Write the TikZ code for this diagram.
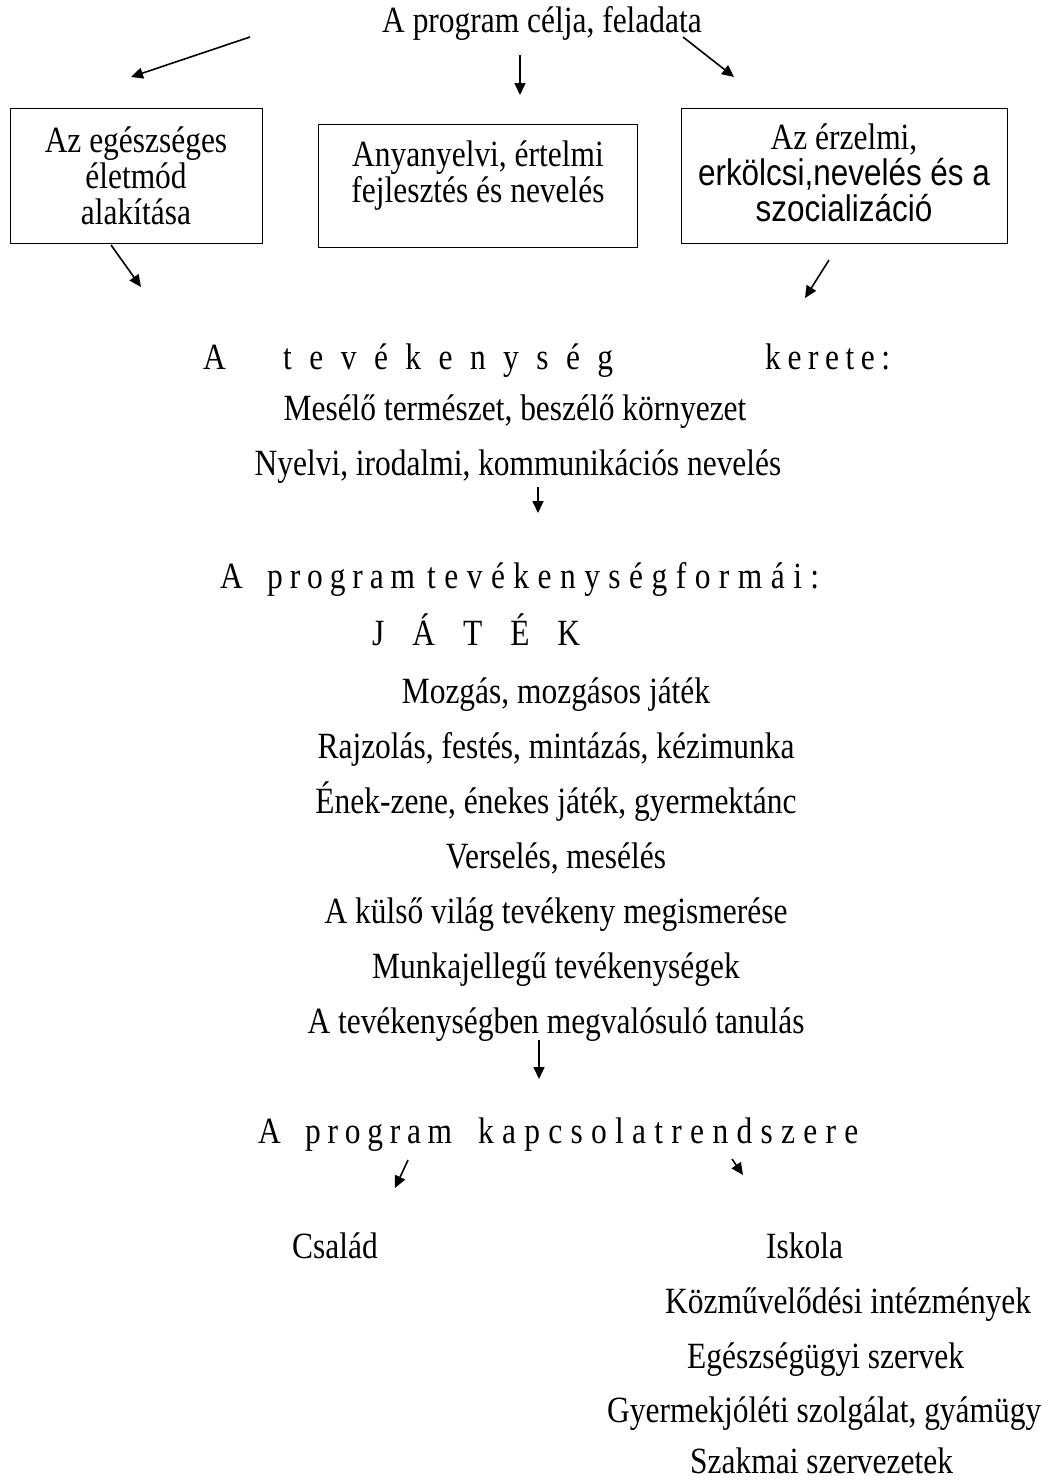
\documentclass[tikz,border=0pt]{standalone}
\usepackage{fontspec}
\setmainfont{Liberation Serif}[FakeStretch=0.85]
\newfontfamily\arialf{Liberation Sans}[FakeStretch=0.85]
\usetikzlibrary{arrows.meta}
% spread the letters of a word over a given width
\def\splloop#1{\ifx#1\relax\else#1\hfill\expandafter\splloop\fi}
\newcommand\spreadw[2]{\hbox to #1{\splloop#2\relax\unskip}}
\begin{document}
\begin{tikzpicture}[x=1pt,y=-1pt,
  txt/.style={font=\fontsize{37}{36}\selectfont, inner sep=0pt, anchor=base},
  txtw/.style={txt, anchor=base west},
  boxframe/.style={draw, line width=1.4pt, anchor=north west, inner sep=0pt},
  boxtext/.style={font=\fontsize{37}{36}\selectfont, inner sep=0pt, align=center},
  arr/.style={line width=1.6pt, -{Triangle[length=12pt,width=11pt]}}]
\useasboundingbox (0,0) rectangle (1053,1481);
% title
\node[txt] (title) at (542,32) {A program célja, feladata};
\coordinate (a1s) at (250,37); \coordinate (a1e) at (131,77);
\coordinate (a2s) at (520,55); \coordinate (a2e) at (520,95);
\coordinate (a3s) at (683,37); \coordinate (a3e) at (734,77);
\draw[arr] (a1s) -- (a1e);
\draw[arr] (a2s) -- (a2e);
\draw[arr] (a3s) -- (a3e);
% boxes
\node[boxframe, minimum width=252pt, minimum height=135pt] (b1) at (10,108) {};
\node[boxtext] (b1t) at (136,176) {Az egészséges\\életmód\\alakítása};
\node[boxframe, minimum width=319pt, minimum height=123pt] (b2) at (318,124) {};
\node[boxtext] (b2t) at (478,176) {Anyanyelvi, értelmi\\fejlesztés és nevelés};
\node[boxframe, minimum width=326pt, minimum height=135pt] (b3) at (681,108) {};
\node[boxtext] (b3t) at (844,173) {Az érzelmi,\\{\arialf erkölcsi,nevelés és a}\\{\arialf szocializáció}};
\coordinate (a4s) at (111,245); \coordinate (a4e) at (141,287);
\coordinate (a5s) at (829,260); \coordinate (a5e) at (805,298);
\draw[arr] (a4s) -- (a4e);
\draw[arr] (a5s) -- (a5e);
% frame of activity
\node[txtw] (kA) at (203,369) {A};
\node[txtw] (kT) at (283,369) {\spreadw{330pt}{tevékenység}};
\node[txtw] (kK) at (765,369) {\spreadw{125pt}{kerete:}};
\node[txt] (mes) at (515,420) {Mesélő természet, beszélő környezet};
\node[txt] (nyel) at (518,475) {Nyelvi, irodalmi, kommunikációs nevelés};
\coordinate (a6s) at (538,487); \coordinate (a6e) at (538,513);
\draw[arr] (a6s) -- (a6e);
% activity forms
\node[txtw] (fA) at (220,588) {A};
\node[txtw] (fP) at (267,588) {\spreadw{148pt}{program}};
\node[txtw] (fT) at (427,588) {\spreadw{392pt}{tevékenységformái:}};
\node[txtw] (jat) at (372,645) {\spreadw{208pt}{JÁTÉK}};
\node[txt] (l1) at (556,703) {Mozgás, mozgásos játék};
\node[txt] (l2) at (556,758) {Rajzolás, festés, mintázás, kézimunka};
\node[txt] (l3) at (556,813) {Ének-zene, énekes játék, gyermektánc};
\node[txt] (l4) at (556,868) {Verselés, mesélés};
\node[txt] (l5) at (556,923) {A külső világ tevékeny megismerése};
\node[txt] (l6) at (556,978) {Munkajellegű tevékenységek};
\node[txt] (l7) at (556,1033) {A tevékenységben megvalósuló tanulás};
\coordinate (a7s) at (539,1040); \coordinate (a7e) at (539,1079);
\draw[arr] (a7s) -- (a7e);
% relations
\node[txtw] (rA) at (258,1143) {A};
\node[txtw] (rP) at (305,1143) {\spreadw{147pt}{program}};
\node[txtw] (rK) at (478,1143) {\spreadw{380pt}{kapcsolatrendszere}};
\coordinate (a8s) at (408,1160); \coordinate (a8e) at (395,1188);
\coordinate (a9s) at (732,1159); \coordinate (a9e) at (743,1175);
\draw[arr] (a8s) -- (a8e);
\draw[arr] (a9s) -- (a9e);
\node[txtw] (csa) at (292,1258) {Család};
\node[txtw] (isk) at (766,1258) {Iskola};
\node[txtw] (r1) at (665,1313) {Közművelődési intézmények};
\node[txtw] (r2) at (687,1368) {Egészségügyi szervek};
\node[txtw] (r3) at (607,1422) {Gyermekjóléti szolgálat, gyámügy};
\node[txtw] (r4) at (690,1473) {Szakmai szervezetek};
\end{tikzpicture}
\end{document}
